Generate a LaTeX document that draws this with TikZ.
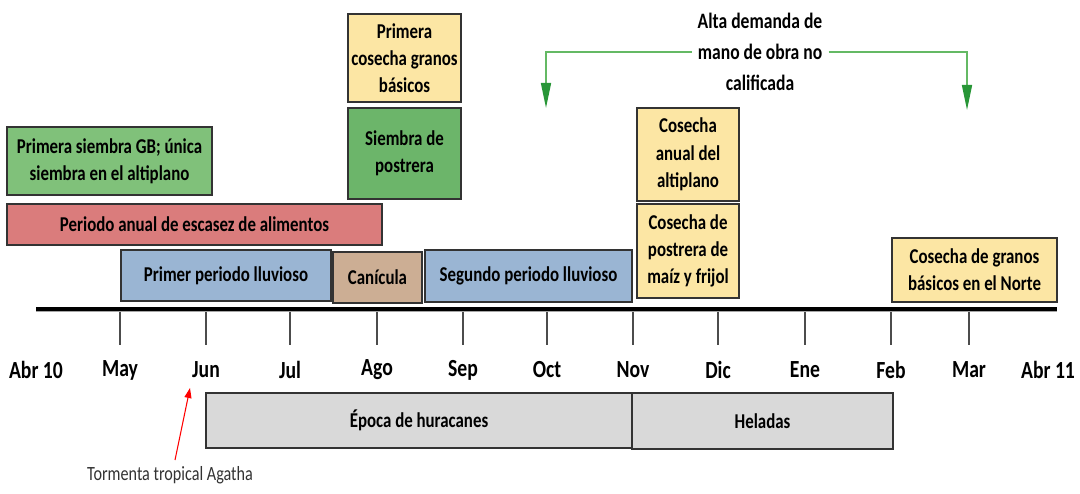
\documentclass[tikz,border=0pt]{standalone}
\usepackage{fontspec}
\setmainfont{Carlito}[FakeStretch=0.8]
\usetikzlibrary{arrows.meta}
\usetikzlibrary{positioning}
\usetikzlibrary{calc}
\usetikzlibrary{math}
\usetikzlibrary{shadows}

\definecolor{verde}{RGB}{128,193,122}
\definecolor{verdeosc}{RGB}{108,181,106}
\definecolor{amarillo}{RGB}{252,230,164}
\definecolor{rojo}{RGB}{218,124,124}
\definecolor{azul}{RGB}{154,181,211}
\definecolor{cafe}{RGB}{204,174,148}
\definecolor{gris}{RGB}{217,217,217}
\definecolor{flecha}{RGB}{100,185,100}
\definecolor{punta}{RGB}{40,150,55}

\tikzset{
  caja/.style={draw=black!80,line width=0.7pt,rectangle,align=center,inner sep=1pt,
    font=\bfseries\fontsize{12}{15.5}\selectfont,
    drop shadow={shadow xshift=0.6pt,shadow yshift=-0.6pt,opacity=0.35,fill=black}},
  mes/.style={font=\bfseries\fontsize{14}{16}\selectfont},
}

\begin{document}
\begin{tikzpicture}
    \tikzmath{  \yax = 3.70 ;
                \ytk = 2.98 ;
                \ylb = 2.48 ;
                \xa = 0.72 ;
                \xb = 21.14 ;
                }
    \useasboundingbox (0,0) rectangle (21.6,9.88);

    \node[caja,fill=verde,minimum width=4.10cm,minimum height=1.36cm] (siembra) at (2.19,6.66) {Primera siembra GB; única\\siembra en el altiplano};
    \node[caja,fill=rojo,minimum width=7.50cm,minimum height=0.82cm] (escasez) at (3.89,5.39) {Periodo anual de escasez de alimentos};
    \node[caja,fill=azul,minimum width=4.20cm,minimum height=1.02cm] (lluvia1) at (4.52,4.37) {Primer periodo lluvioso};
    \node[caja,fill=cafe,minimum width=1.78cm,minimum height=1.02cm] (canicula) at (7.55,4.33) {Canícula};
    \node[caja,fill=azul,minimum width=4.14cm,minimum height=1.04cm] (lluvia2) at (10.57,4.36) {Segundo periodo lluvioso};
    \node[caja,fill=amarillo,minimum width=2.26cm,minimum height=1.76cm] (cosecha1) at (8.09,8.72) {Primera\\cosecha granos\\básicos};
    \node[caja,fill=verdeosc,minimum width=2.26cm,minimum height=1.82cm] (postrera) at (8.09,6.81) {Siembra de\\postrera};
    \node[caja,fill=amarillo,minimum width=2.04cm,minimum height=1.86cm] (altiplano) at (13.76,6.79) {Cosecha\\anual del\\altiplano};
    \node[caja,fill=amarillo,minimum width=2.04cm,minimum height=1.88cm] (maizfrijol) at (13.76,4.86) {Cosecha de\\postrera de\\maíz y frijol};
    \node[caja,fill=amarillo,minimum width=3.30cm,minimum height=1.28cm] (norte) at (19.49,4.48) {Cosecha de granos\\básicos en el Norte};
    \node[caja,fill=gris,minimum width=8.52cm,minimum height=1.10cm] (huracanes) at (8.38,1.47) {Época de huracanes};
    \node[caja,fill=gris,minimum width=5.22cm,minimum height=1.12cm] (heladas) at (15.25,1.46) {Heladas};

    \coordinate (ini) at (\xa,\yax);
    \coordinate (fin) at (\xb,\yax);
    \draw[black!35,line width=1pt] ([yshift=-1.2pt]ini) -- ([yshift=-1.2pt]fin);
    \draw[line width=2.2pt] (ini) -- (fin);
    \foreach \x/\m in {2.40/May,4.12/Jun,5.80/Jul,7.54/Ago,9.26/Sep,10.94/Oct,12.66/Nov,14.36/Dic,16.10/Ene,17.82/Feb,19.38/Mar}{
        \draw[black!70,line width=0.6pt] (\x,\yax-0.06) -- (\x,\ytk);
        \node[mes] (m\m) at (\x,\ylb) {\m};
    }
    \node[mes] (abr10) at (\xa,\ylb) {Abr 10};
    \node[mes] (abr11) at (20.96,\ylb) {Abr 11};

    \node[align=center,font=\bfseries\fontsize{12.5}{17.5}\selectfont] (demanda) at (15.20,8.84) {Alta demanda de\\mano de obra no\\calificada};
    \coordinate (demL) at (10.92,7.72);
    \coordinate (demR) at (19.34,7.68);
    \draw[flecha,line width=0.9pt,-{Triangle[length=5mm,width=2mm,color=punta,fill=punta]}] (demanda.west) -| (demL);
    \draw[flecha,line width=0.9pt,-{Triangle[length=5mm,width=2mm,color=punta,fill=punta]}] (demanda.east) -| (demR);

    \node[font=\fontsize{11.5}{13}\selectfont,text=black!80] (agatha) at (3.40,0.38) {Tormenta tropical Agatha};
    \coordinate (tormenta) at (3.80,2.12);
    \draw[red,line width=0.6pt,-{Triangle[length=2mm,width=1.4mm]}] ([xshift=1mm]agatha.north) -- (tormenta);
\end{tikzpicture}
\end{document}
